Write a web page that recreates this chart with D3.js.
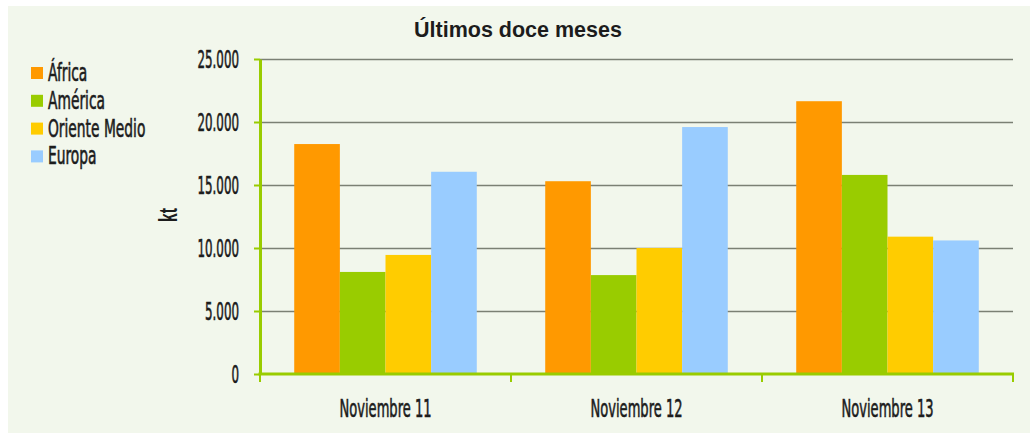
<!DOCTYPE html>
<html>
<head>
<meta charset="utf-8">
<script src="https://cdn.jsdelivr.net/npm/d3@7"></script>
<style>
  body { margin: 0; background: #fff; }
  text { font-family: "Liberation Sans Narrow", "DejaVu Sans Condensed", sans-serif; fill: #1c1c1c; }
  .lbl { stroke: #1c1c1c; stroke-width: 0.6px; }
  .title, .ytitle { font-family: "Liberation Sans", Arial, sans-serif; font-weight: bold; }
</style>
</head>
<body>
<svg id="chart" width="1030" height="434"></svg>
<script>
// values in kt
const categories = ["Noviembre 11", "Noviembre 12", "Noviembre 13"];
const seriesNames = ["África", "América", "Oriente Medio", "Europa"];
const africa = [18250, 15300, 21650];
const america = [8100, 7850, 15800];
const orienteMedio = [9450, 10000, 10900];
const europa = [16050, 19600, 10600];
const yTicks = [0, 5000, 10000, 15000, 20000, 25000];
const colors = ["#ff9900", "#99cc00", "#ffcc00", "#99ccff"];

const values = [africa, america, orienteMedio, europa];
const green = "#99cc00";
// the original font is a tall, very narrow one: squeeze the condensed font horizontally
const fs = 24;
const sxY = 0.55, sxX = 0.605, sxLeg = 0.64;

const svg = d3.select("#chart");

svg.append("rect")
  .attr("x", 8).attr("y", 6)
  .attr("width", 1022).attr("height", 427)
  .attr("fill", "#f2f7ec");

const plotLeft = 260, plotRight = 1013, plotTop = 59, plotBottom = 374;

const x0 = d3.scaleBand().domain(categories).range([plotLeft, plotRight]);
const x1 = d3.scaleBand().domain(seriesNames).range([0, x0.bandwidth()]).paddingOuter(0.75);
const y = d3.scaleLinear().domain([0, 25000]).range([plotBottom, plotTop]);

const fmt = d3.formatLocale({ decimal: ",", thousands: ".", grouping: [3], currency: ["", ""] }).format(",.0f");

// gridlines
svg.append("g")
  .attr("transform", `translate(${plotLeft},0)`)
  .call(d3.axisLeft(y).tickValues(yTicks.slice(1)).tickSize(-(plotRight - plotLeft)).tickFormat(""))
  .call(g => g.select(".domain").remove())
  .call(g => g.selectAll("line").attr("stroke", "#7b8074").attr("stroke-width", 1.5));

// bars
const groups = svg.append("g").selectAll("g")
  .data(categories)
  .join("g")
  .attr("transform", d => `translate(${x0(d)},0)`);

groups.selectAll("rect")
  .data((c, i) => seriesNames.map((s, k) => ({ s: s, v: values[k][i], k: k })))
  .join("rect")
  .attr("x", d => x1(d.s))
  .attr("width", x1.bandwidth())
  .attr("y", d => y(d.v))
  .attr("height", d => y(0) - y(d.v))
  .attr("fill", d => colors[d.k]);

// y axis
const yAxis = svg.append("g")
  .attr("transform", `translate(${plotLeft},0)`)
  .call(d3.axisLeft(y).tickValues(yTicks).tickSize(6).tickSizeOuter(0).tickFormat(fmt));
yAxis.select(".domain").attr("stroke", green).attr("stroke-width", 3);
yAxis.selectAll(".tick line").attr("stroke", green).attr("stroke-width", 2);
yAxis.selectAll(".tick text")
  .attr("class", "lbl")
  .attr("x", -21 / sxY)
  .attr("dy", "0.36em")
  .attr("transform", `scale(${sxY},1)`)
  .style("font-size", fs + "px");

// x axis
const xAxis = svg.append("g")
  .attr("transform", `translate(0,${plotBottom})`)
  .call(d3.axisBottom(x0).tickSize(0).tickPadding(0));
xAxis.select(".domain").remove();
xAxis.selectAll(".tick text")
  .attr("class", "lbl")
  .attr("y", 43)
  .attr("dy", 0)
  .attr("transform", `scale(${sxX},1)`)
  .style("font-size", fs + "px");

const edges = [x0.range()[0]].concat(categories.map(c => x0(c) + x0.bandwidth()));
xAxis.selectAll(".edge")
  .data(edges)
  .join("line")
  .attr("class", "edge")
  .attr("x1", d => d).attr("x2", d => d)
  .attr("y1", 0).attr("y2", 8)
  .attr("stroke", green).attr("stroke-width", 2);
xAxis.append("line")
  .attr("x1", plotLeft - 1.5).attr("x2", plotRight + 1)
  .attr("y1", 0).attr("y2", 0)
  .attr("stroke", green).attr("stroke-width", 3);

// axis title
svg.append("text")
  .attr("class", "ytitle")
  .attr("transform", "translate(177,215) rotate(-90) scale(0.6,1)")
  .attr("text-anchor", "middle")
  .style("font-size", "26px")
  .text("kt");

// chart title
svg.append("text")
  .attr("class", "title")
  .attr("x", 518).attr("y", 37)
  .attr("text-anchor", "middle")
  .style("font-size", "21.5px")
  .text("Últimos doce meses");

// legend
const legend = svg.append("g").selectAll("g")
  .data(seriesNames)
  .join("g")
  .attr("transform", (d, i) => `translate(31,${67 + i * 27.8})`);
legend.append("rect")
  .attr("width", 12).attr("height", 12)
  .attr("fill", (d, i) => colors[i]);
legend.append("text")
  .attr("class", "lbl")
  .attr("x", 17 / sxLeg)
  .attr("y", 14)
  .attr("transform", `scale(${sxLeg},1)`)
  .style("font-size", fs + "px")
  .text(d => d);
</script>
</body>
</html>
